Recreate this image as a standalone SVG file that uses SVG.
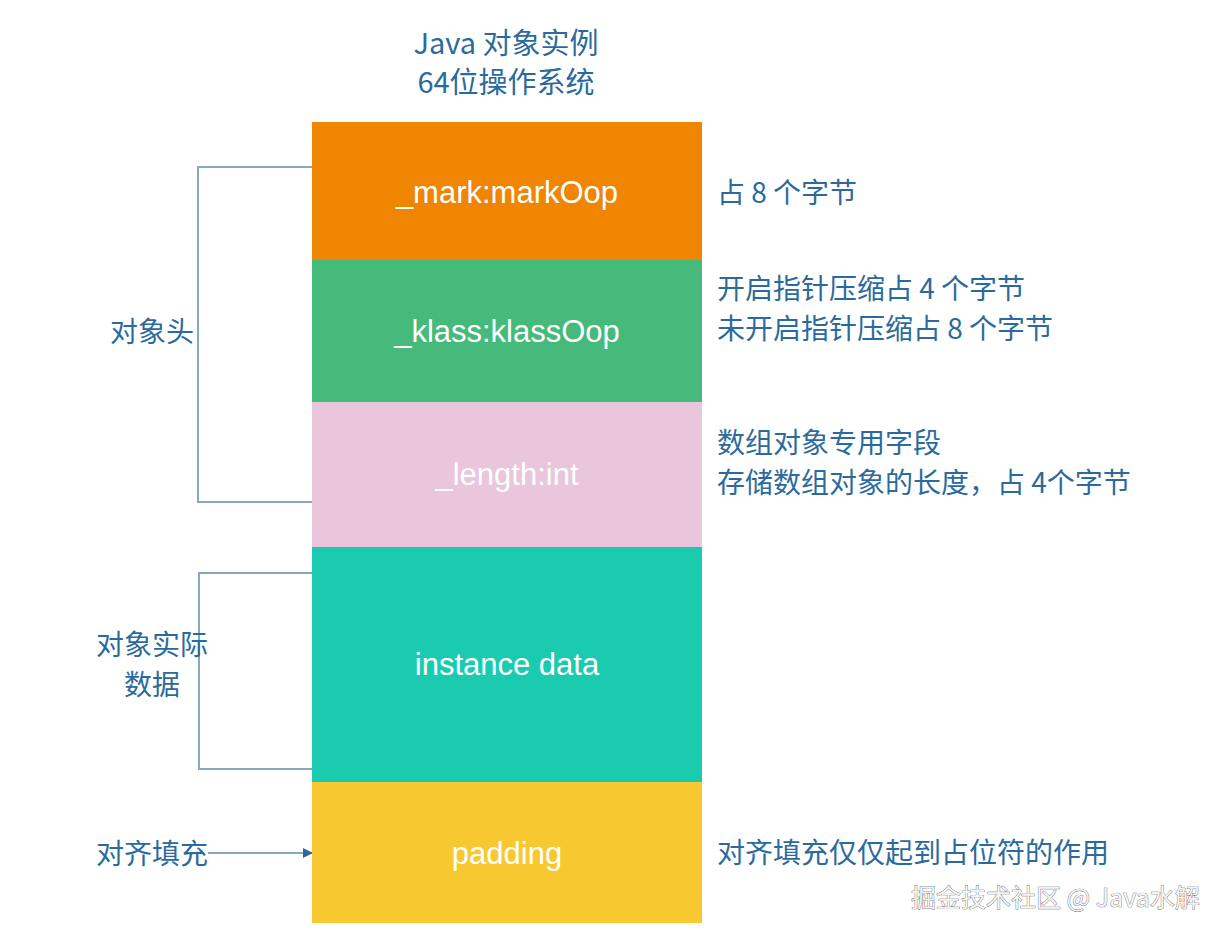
<svg xmlns="http://www.w3.org/2000/svg" width="1228" height="938" viewBox="0 0 1228 938">
<defs>
<style>
.t{font-family:"Noto Sans CJK SC","Liberation Sans",sans-serif;font-size:28px;fill:#2b6a9c}
.h{font-size:29px}
.b{font-family:"Liberation Sans","Noto Sans CJK SC",sans-serif;font-size:31px;fill:#ffffff;text-anchor:middle;font-weight:300}
.c{fill:none;stroke:#88a8c0;stroke-width:2}
.w{font-family:"Noto Sans CJK SC","Liberation Sans",sans-serif;font-size:25px;fill:#f4f4f4;stroke:#555;stroke-width:0.7;paint-order:stroke}
</style>
<marker id="ah" markerWidth="10" markerHeight="10" refX="9" refY="5" orient="auto" markerUnits="userSpaceOnUse">
<path d="M0,0 L10,5 L0,10 Z" fill="#2b6a9c"/>
</marker>
</defs>
<rect width="1228" height="938" fill="#ffffff"/>
<g id="title">
<text class="t h" x="506" y="54" text-anchor="middle">Java 对象实例</text>
<text class="t h" x="506" y="93" text-anchor="middle">64位操作系统</text>
</g>
<g id="connectors">
<polyline class="c" points="312,167 198,167 198,502 312,502"/>
<polyline class="c" points="312,573 199,573 199,769 312,769"/>
<line class="c" x1="208" y1="853" x2="312" y2="853" stroke="#4a7fa8" marker-end="url(#ah)"/>
</g>
<g id="mark">
<rect x="312" y="122" width="390" height="138" fill="#ef8500"/>
<text class="b" x="507" y="203">_mark:markOop</text>
</g>
<g id="klass">
<rect x="312" y="260" width="390" height="142" fill="#46ba7a"/>
<text class="b" x="507" y="342">_klass:klassOop</text>
</g>
<g id="length">
<rect x="312" y="402" width="390" height="145" fill="#e9c6dc"/>
<text class="b" x="507" y="485">_length:int</text>
</g>
<g id="instance">
<rect x="312" y="547" width="390" height="235" fill="#1acbb0"/>
<text class="b" x="507" y="675">instance data</text>
</g>
<g id="padding">
<rect x="312" y="782" width="390" height="141" fill="#f7c830"/>
<text class="b" x="507" y="864">padding</text>
</g>
<g id="left-labels">
<text class="t" x="152" y="342" text-anchor="middle">对象头</text>
<text class="t" x="152" y="655" text-anchor="middle">对象实际</text>
<text class="t" x="152" y="695" text-anchor="middle">数据</text>
<text class="t" x="152" y="864" text-anchor="middle">对齐填充</text>
</g>
<g id="right-labels">
<text class="t" x="717" y="203">占 8 个字节</text>
<text class="t" x="717" y="299">开启指针压缩占 4 个字节</text>
<text class="t" x="717" y="339">未开启指针压缩占 8 个字节</text>
<text class="t" x="717" y="453">数组对象专用字段</text>
<text class="t" x="717" y="493">存储数组对象的长度，占 4个字节</text>
<text class="t" x="717" y="863">对齐填充仅仅起到占位符的作用</text>
</g>
<g id="watermark">
<text class="w" x="911" y="907">掘金技术社区 @ Java水解</text>
</g>
</svg>
